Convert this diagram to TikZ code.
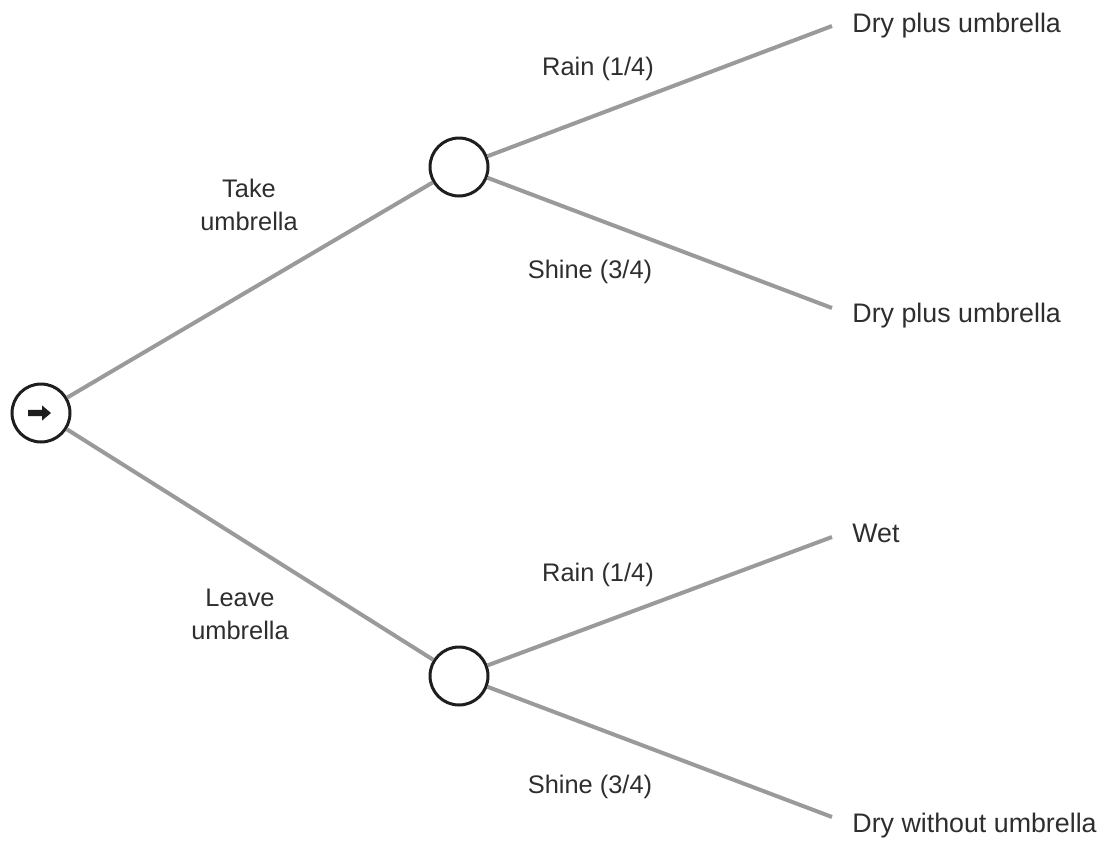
\documentclass[tikz,border=0pt]{standalone}
\usepackage{fontspec}
\setmainfont{Liberation Sans}
\usetikzlibrary{arrows.meta}
\definecolor{txt}{HTML}{2E2E2E}
\definecolor{edge}{HTML}{9A9A9A}
\definecolor{ring}{HTML}{1E1E1E}
\tikzset{
  chance/.style={circle, draw=ring, line width=1.5pt, fill=white, minimum size=29pt, inner sep=0pt},
  branch/.style={draw=edge, line width=2pt},
  lbl/.style={text=txt, font=\fontsize{12.7}{16.5}\selectfont, align=center, inner sep=0pt},
  leaf/.style={text=txt, font=\fontsize{13.4}{16}\selectfont, anchor=base west, inner sep=0pt},
}
\begin{document}
\begin{tikzpicture}[x=0.5pt, y=-0.5pt]
\useasboundingbox (0,0) rectangle (1104,841);
% nodes
\node[chance] (root) at (41,413) {};
\node[chance] (up) at (459,167) {};
\node[chance] (down) at (459,676) {};
\coordinate (e1) at (832,26);
\coordinate (e2) at (832,308);
\coordinate (e3) at (832,537);
\coordinate (e4) at (832,817);
% edges
\draw[branch] (root) -- (up);
\draw[branch] (root) -- (down);
\draw[branch] (up) -- (e1);
\draw[branch] (up) -- (e2);
\draw[branch] (down) -- (e3);
\draw[branch] (down) -- (e4);
% arrow icon in root
\fill[ring] ([xshift=-6.5pt,yshift=1.6pt]root.center) -- ([xshift=0.5pt,yshift=1.6pt]root.center)
  -- ([xshift=0.5pt,yshift=3.8pt]root.center) -- ([xshift=5pt]root.center)
  -- ([xshift=0.5pt,yshift=-3.8pt]root.center) -- ([xshift=0.5pt,yshift=-1.6pt]root.center)
  -- ([xshift=-6.5pt,yshift=-1.6pt]root.center) -- cycle;
% labels
\node[lbl] (take) at (249,205) {Take\\umbrella};
\node[lbl] (leave) at (240,614) {Leave\\umbrella};
\node[lbl, anchor=base] (r1) at (598,75) {Rain (1/4)};
\node[lbl, anchor=base] (s1) at (590,278) {Shine (3/4)};
\node[lbl, anchor=base] (r2) at (598,581) {Rain (1/4)};
\node[lbl, anchor=base] (s2) at (590,793) {Shine (3/4)};
% leaves
\node[leaf] (l1) at (852,32) {Dry plus umbrella};
\node[leaf] (l2) at (852,322) {Dry plus umbrella};
\node[leaf] (l3) at (852,542) {Wet};
\node[leaf] (l4) at (852,832) {Dry without umbrella};
\end{tikzpicture}
\end{document}
